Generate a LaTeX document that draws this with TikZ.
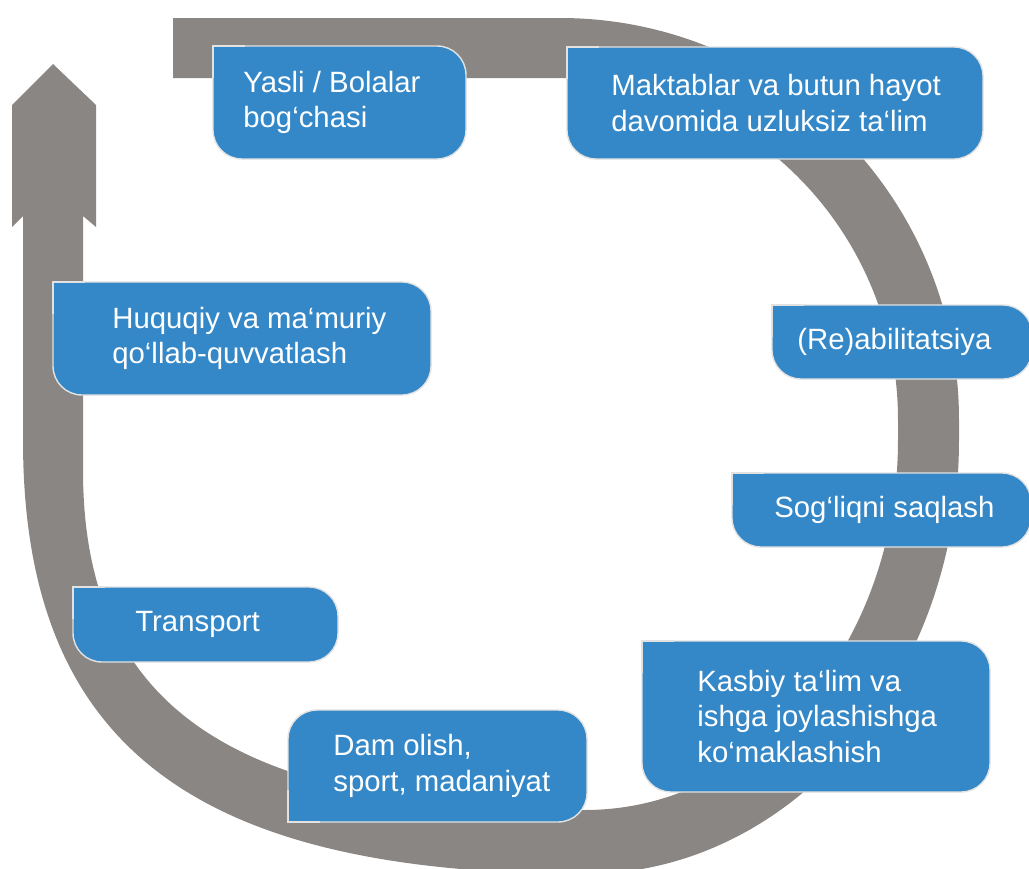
\documentclass[tikz,border=0pt]{standalone}
\usepackage{fontspec}
\setmainfont{Liberation Sans}

\definecolor{loopgray}{RGB}{138,134,131}
\definecolor{tagblue}{RGB}{52,136,200}
\definecolor{tagline}{RGB}{226,226,226}

\begin{document}
\begin{tikzpicture}[x=0.02cm, y=-0.02cm,
    tagbox/.style={fill=tagblue, draw=tagline, line width=0.8pt, rounded corners=0.58cm},
    tagedge/.style={draw=tagline, line width=0.8pt},
    tagtext/.style={anchor=west, align=left, text=white, inner sep=0pt,
      font=\fontsize{16.7}{20.2}\selectfont}]
    \useasboundingbox (0,0) rectangle (1029,869);

    % The loop, running from the top bar round to the arrow head on the left
    \fill[loopgray] (53,64) -- (96,105) -- (96,227) -- (83,216) -- (83,470)
        .. controls (83,708) and (234,810) .. (585,810)
        .. controls (758,810) and (898,644) .. (898,440)
        -- (898,420)
        .. controls (898,231) and (747,78) .. (560,78)
        -- (173,78) -- (173,18) -- (560,18)
        .. controls (780,18) and (959,198) .. (959,420)
        -- (959,440)
        .. controls (959,680) and (791,874) .. (585,874)
        .. controls (192,874) and (23,744) .. (23,440)
        -- (23,216) -- (12,227) -- (12,105) -- cycle;

    % Boxes with a square top left corner
    \foreach \xa/\ya/\xb/\yb in {213/46/466/159, 567/47/983/159, 53/282/431/395,
        772/305/1032/379, 732/473/1031/547, 642/641/990/792, 73/587/338/662} {
      \draw[tagbox] (\xa,\ya) rectangle (\xb,\yb);
      \fill[tagblue] (\xa,\ya) rectangle ++(32,32);
      \draw[tagedge] (\xa,\ya+32) |- (\xa+32,\ya);
    }

    % This one is square at the bottom left
    \draw[tagbox] (288,710) rectangle (587,822);
    \fill[tagblue] (288,822) rectangle ++(32,-32);
    \draw[tagedge] (288,790) |- (320,822);

    % Labels
    \node[tagtext] (yasli) at (243,102.5) {Yasli / Bolalar\\bog‘chasi};
    \node[tagtext] (maktab) at (611,103) {Maktablar va butun hayot\\davomida uzluksiz ta‘lim};
    \node[tagtext] (huquq) at (112,338.5) {Huquqiy va ma‘muriy\\qo‘llab-quvvatlash};
    \node[tagtext] (reab) at (797,342) {(Re)abilitatsiya};
    \node[tagtext] (soglik) at (774,510) {Sog‘liqni saqlash};
    \node[tagtext] (kasb) at (697,716.5) {Kasbiy ta‘lim va\\ishga joylashishga\\ko‘maklashish};
    \node[tagtext] (transport) at (135,624.5) {Transport};
    \node[tagtext] (dam) at (333,766) {Dam olish,\\sport, madaniyat};
\end{tikzpicture}
\end{document}
